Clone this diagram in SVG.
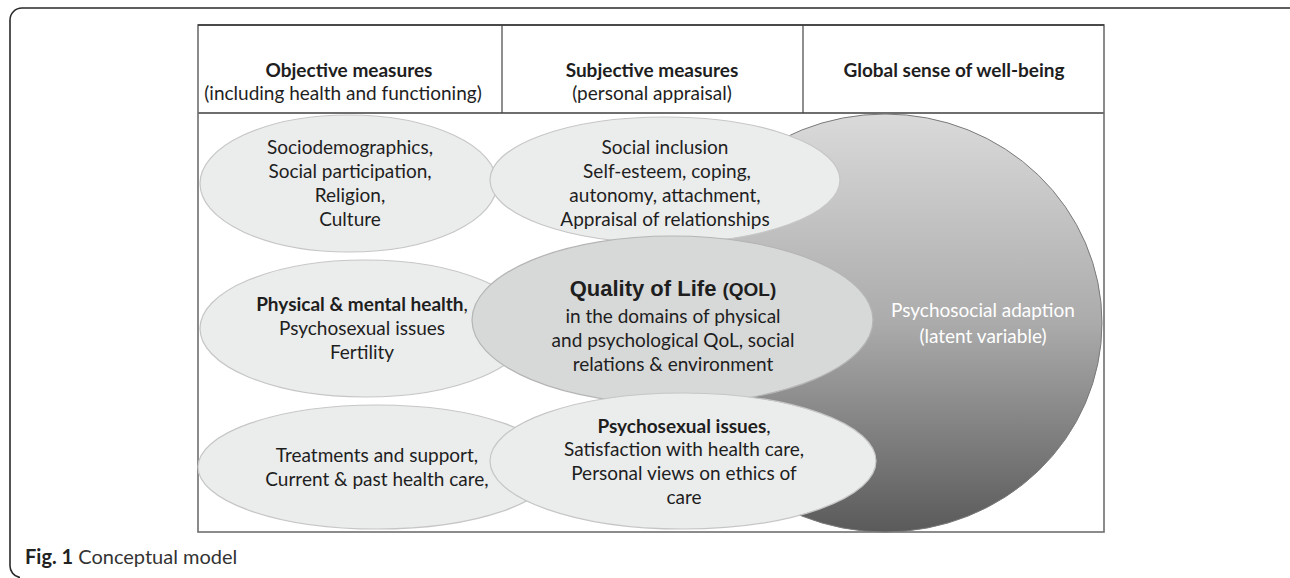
<svg xmlns="http://www.w3.org/2000/svg" width="1290" height="578" viewBox="0 0 1290 578">
<defs>
<linearGradient id="gBig" x1="0" y1="0" x2="0" y2="1">
<stop offset="0" stop-color="#dadada"/>
<stop offset="0.5" stop-color="#ababab"/>
<stop offset="1" stop-color="#5a5a5a"/>
</linearGradient>
<style>
.t{font-family:Lato,"Open Sans","Liberation Sans",sans-serif;font-size:19px;fill:#1e1e1e;text-anchor:middle}
.h{font-family:Lato,"Open Sans","Liberation Sans",sans-serif;font-size:19px;fill:#1e1e1e;text-anchor:middle}
.b{font-weight:bold}
.lt{fill:#ebecec;stroke:#c6c6c6;stroke-width:1.2}
.q{fill:#d7d8d8;stroke:#b5b5b5;stroke-width:1.2}
.w{fill:#ffffff}
</style>
</defs>
<rect width="1290" height="578" fill="#ffffff"/>
<path d="M1300,8 H22 A12,12 0 0 0 10,20 V565 A12,12 0 0 0 20,577.5" fill="none" stroke="#2a2a2a" stroke-width="1.6"/>

<g id="table">
<rect x="198" y="25" width="906" height="507" fill="#ffffff" stroke="#6e6e6e" stroke-width="1.6"/>
<line x1="198" y1="25" x2="1104" y2="25" stroke="#333" stroke-width="1.4"/>
<line x1="198" y1="113" x2="1104" y2="113" stroke="#6e6e6e" stroke-width="1.8"/>
<line x1="502" y1="25" x2="502" y2="113" stroke="#444" stroke-width="1.2"/>
<line x1="803" y1="25" x2="803" y2="113" stroke="#444" stroke-width="1.2"/>
<text class="h b" x="349" y="77">Objective measures</text>
<text class="h" x="343" y="100">(including health and functioning)</text>
<text class="h b" x="652" y="77">Subjective measures</text>
<text class="h" x="652" y="100">(personal appraisal)</text>
<text class="h b" x="954" y="77">Global sense of well-being</text>
</g>

<g id="psychosocial">
<ellipse cx="885" cy="323" rx="217" ry="209" fill="url(#gBig)" stroke="#7a7a7a" stroke-width="1"/>
<text class="t w" x="983" y="317">Psychosocial adaption</text>
<text class="t w" x="983" y="343">(latent variable)</text>
</g>

<g id="sociodemographics">
<ellipse class="lt" cx="348.5" cy="183.5" rx="148.5" ry="68.5"/>
<text class="t" x="350" y="154">Sociodemographics,</text>
<text class="t" x="350" y="178">Social participation,</text>
<text class="t" x="350" y="202">Religion,</text>
<text class="t" x="350" y="226">Culture</text>
</g>

<g id="social-inclusion">
<ellipse class="lt" cx="665" cy="180" rx="175" ry="63"/>
<text class="t" x="665" y="154">Social inclusion</text>
<text class="t" x="667" y="178">Self-esteem, coping,</text>
<text class="t" x="665" y="202">autonomy, attachment,</text>
<text class="t" x="665" y="226">Appraisal of relationships</text>
</g>

<g id="physical">
<ellipse class="lt" cx="365" cy="328.5" rx="165" ry="68.5"/>
<text class="t" x="362" y="311"><tspan class="b">Physical &amp; mental health</tspan>,</text>
<text class="t" x="362" y="335">Psychosexual issues</text>
<text class="t" x="362" y="359">Fertility</text>
</g>

<g id="treatments">
<ellipse class="lt" cx="377" cy="467" rx="179" ry="62"/>
<text class="t" x="377" y="462">Treatments and support,</text>
<text class="t" x="377" y="486">Current &amp; past health care,</text>
</g>

<g id="qol">
<ellipse class="q" cx="672.5" cy="320" rx="200.5" ry="84"/>
<text class="t" x="673" y="296" style="font-family:'Liberation Sans',Arial,sans-serif;font-weight:bold;font-size:22px">Quality of Life <tspan style="font-size:19px">(QOL)</tspan></text>
<text class="t" x="673" y="323">in the domains of physical</text>
<text class="t" x="673" y="347">and psychological QoL, social</text>
<text class="t" x="673" y="371">relations &amp; environment</text>
</g>

<g id="psychosexual">
<ellipse class="lt" cx="683" cy="461" rx="193" ry="68"/>
<text class="t" x="684" y="433"><tspan class="b">Psychosexual issues</tspan>,</text>
<text class="t" x="684" y="456">Satisfaction with health care,</text>
<text class="t" x="684" y="480">Personal views on ethics of</text>
<text class="t" x="684" y="504">care</text>
</g>

<g id="connectors"></g>

<g id="caption">
<text x="25" y="564" style="font-family:Lato,'Open Sans','Liberation Sans',sans-serif;font-size:20px;fill:#333"><tspan style="font-weight:bold;fill:#222">Fig. 1</tspan> Conceptual model</text>
</g>
</svg>
